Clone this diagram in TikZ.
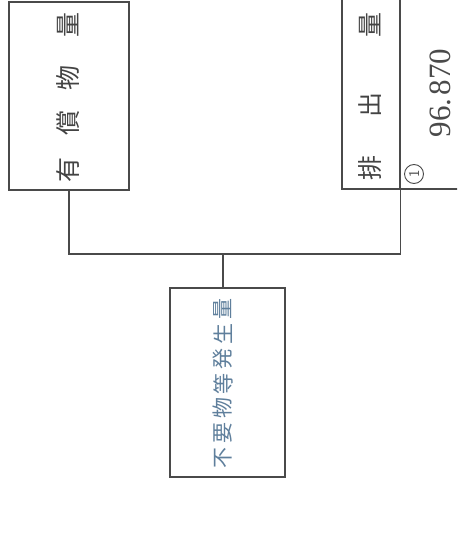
\documentclass[tikz,border=0pt]{standalone}
\usepackage{fontspec}
\newfontfamily\jp{Noto Sans CJK JP}
\setmainfont{Liberation Serif}
\definecolor{ln}{HTML}{4A4A4A}
\definecolor{bt}{HTML}{5F7F9C}
\begin{document}
\begin{tikzpicture}[x=1pt,y=-1pt,
  box/.style={draw=ln,line width=1.2pt,rectangle,inner sep=0pt},
  ch/.style={font=\jp\fontsize{25}{25}\selectfont,text=ln!90!black,rotate=90,inner sep=0pt},
  bch/.style={font=\jp\fontsize{21}{21}\selectfont,text=bt,rotate=90,inner sep=0pt},
  wire/.style={draw=ln,line width=1.2pt}]
\useasboundingbox (0,0) rectangle (457,553);
\clip (0,0) rectangle (457,553);
\fill[white] (0,0) rectangle (457,553);
% left box
\node[box,minimum width=120pt,minimum height=188pt] (yu) at (69,96) {};
\node[ch] (y1) at (68,170) {有};
\node[ch] (y2) at (68,123) {償};
\node[ch] (y3) at (68,78) {物};
\node[ch] (y4) at (68,25) {量};
% right box
\node[box,minimum width=58pt,minimum height=190pt] (hai) at (371,94) {};
\node[box,minimum width=62pt,minimum height=190pt] (val) at (431,94) {};
\node[ch] (h1) at (370,168) {排};
\node[ch] (h2) at (370,105) {出};
\node[ch] (h3) at (370,25) {量};
\node[rotate=90,font=\fontsize{31}{31}\selectfont,text=ln,inner sep=0pt] (num) at (440,93) {96.\kern3pt870};
\node[draw=ln,line width=0.9pt,circle,inner sep=0pt,minimum width=19pt,minimum height=19pt] (c1) at (414,174) {};
\node[rotate=90,font=\sffamily\fontsize{15}{15}\selectfont,text=ln,inner sep=0pt] (c1t) at (c1.center) {1};
% bottom box
\node[box,minimum width=115pt,minimum height=189pt] (fu) at (227.5,382.5) {};
\node[bch] (f1) at (223,458) {不};
\node[bch] (f2) at (223,433.2) {要};
\node[bch] (f3) at (223,408.3) {物};
\node[bch] (f4) at (223,383.5) {等};
\node[bch] (f5) at (223,358.7) {発};
\node[bch] (f6) at (223,333.8) {生};
\node[bch] (f7) at (223,309) {量};
% connectors
\coordinate (j) at (223,254);
\draw[wire] (yu.south) |- (j);
\draw[wire] (hai.south east) |- (j);
\draw[wire] (j) -- (j |- fu.north);
\end{tikzpicture}
\end{document}
